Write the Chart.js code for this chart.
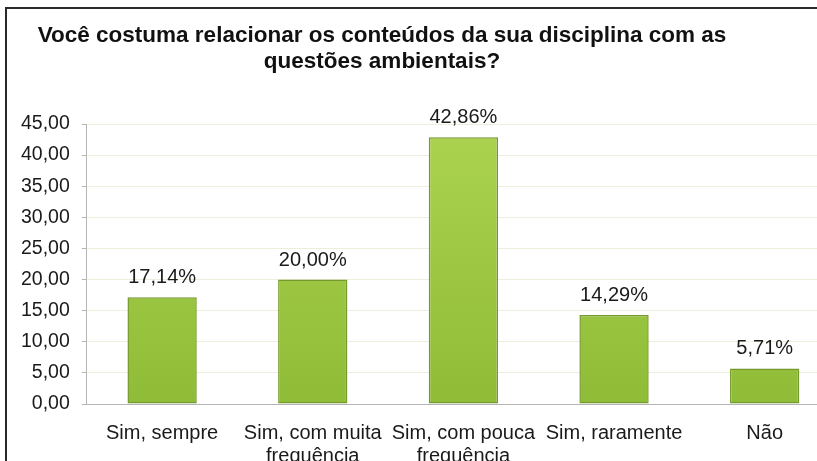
<!DOCTYPE html>
<html lang="pt">
<head>
    <meta charset="UTF-8">
    <title>Questões ambientais</title>
    <script src="https://cdn.jsdelivr.net/npm/chart.js"></script>
    <style>
        html, body { margin: 0; padding: 0; background: #fff; }
        .frame {
            position: relative;
            width: 817px;
            height: 461px;
            overflow: hidden;
            background: #fff;
        }
        .border {
            position: absolute;
            left: 5px;
            top: 7px;
            width: 900px;
            height: 600px;
            border-left: 2px solid #2a2a2a;
            border-top: 2px solid #2a2a2a;
            pointer-events: none;
        }
        .title {
            position: absolute;
            left: 0;
            width: 764px;
            top: 22px;
            text-align: center;
            font: bold 22.5px "Liberation Sans", Arial, sans-serif;
            line-height: 26px;
            color: #111;
        }
        #grafico {
            position: absolute;
            left: 0;
            top: 0;
        }
    </style>
</head>
<body>
<div class="frame">
    <canvas id="grafico" width="850" height="478"></canvas>
    <div class="border"></div>
    <div class="title">Você costuma relacionar os conteúdos da sua disciplina com as<br>questões ambientais?</div>
</div>

<script>
    // dados
    const categorias = [
        'Sim, sempre',
        ['Sim, com muita', 'frequência'],
        ['Sim, com pouca', 'frequência'],
        'Sim, raramente',
        'Não'
    ];
    const valores = [17.14, 20.00, 42.86, 14.29, 5.71];
    const eixoY = { min: 0, max: 45, passo: 5 };

    const fonte = '"Liberation Sans", Arial, sans-serif';

    function formata(v) {
        return v.toFixed(2).replace('.', ',');
    }

    // rótulos com percentual em cima das barras
    const rotulos = {
        id: 'rotulos',
        afterDatasetsDraw(chart) {
            const ctx = chart.ctx;
            const meta = chart.getDatasetMeta(0);
            ctx.save();
            ctx.font = '20px ' + fonte;
            ctx.fillStyle = '#1a1a1a';
            ctx.textAlign = 'center';
            ctx.textBaseline = 'alphabetic';
            meta.data.forEach((bar, i) => {
                ctx.fillText(formata(valores[i]) + '%', bar.x, bar.y - 14);
            });
            ctx.restore();
        }
    };

    function corBarra(context) {
        const area = context.chart.chartArea;
        if (!area) return '#9cc83e';
        const g = context.chart.ctx.createLinearGradient(0, area.top, 0, area.bottom);
        g.addColorStop(0, '#acd34f');
        g.addColorStop(1, '#8fbc38');
        return g;
    }

    new Chart(document.getElementById('grafico'), {
        type: 'bar',
        data: {
            labels: categorias,
            datasets: [{
                data: valores,
                backgroundColor: corBarra,
                borderColor: '#76992b',
                borderWidth: 1.5,
                borderSkipped: false,
                barPercentage: 0.46,
                categoryPercentage: 1
            }]
        },
        options: {
            responsive: false,
            animation: false,
            maintainAspectRatio: false,
            layout: { padding: { top: 124, right: 10, left: 9, bottom: 0 } },
            plugins: {
                legend: { display: false },
                tooltip: { enabled: false }
            },
            scales: {
                x: {
                    grid: { display: false },
                    border: { color: '#b5b5b5', width: 1 },
                    ticks: {
                        color: '#1a1a1a',
                        font: { family: fonte, size: 20, lineHeight: 1.15 },
                        maxRotation: 0,
                        autoSkip: false,
                        padding: 10
                    }
                },
                y: {
                    min: eixoY.min,
                    max: eixoY.max,
                    border: { color: '#b5b5b5', width: 1 },
                    grid: {
                        color: ctx => ctx.tick && ctx.tick.value === 0 ? '#b5b5b5' : '#ecefdc',
                        tickColor: '#b5b5b5',
                        tickLength: 5
                    },
                    ticks: {
                        stepSize: eixoY.passo,
                        color: '#1a1a1a',
                        font: { family: fonte, size: 19.5 },
                        padding: 12,
                        callback: v => formata(v)
                    }
                }
            }
        },
        plugins: [rotulos]
    });
</script>
</body>
</html>
